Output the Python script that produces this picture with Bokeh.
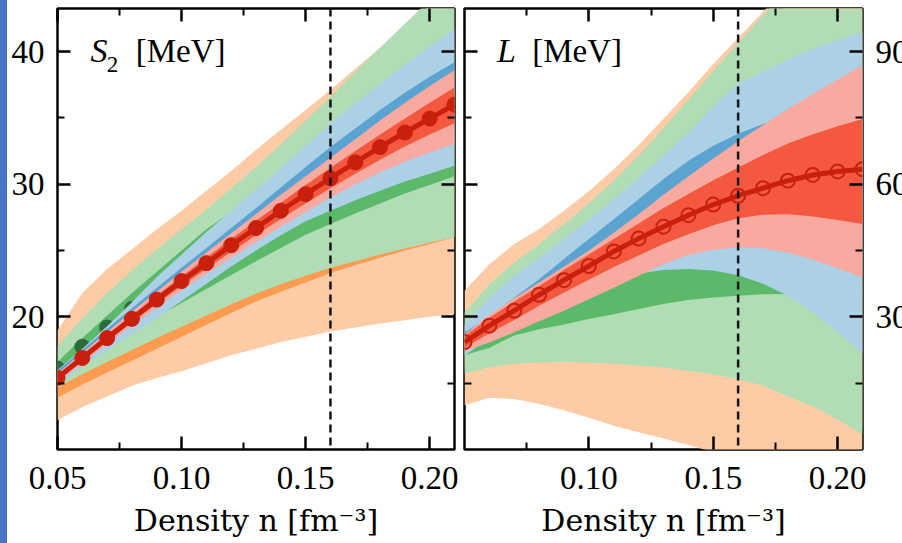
from bokeh.plotting import figure
from bokeh.models import Range1d, FixedTicker, LinearAxis, Span, Label, Div, NumeralTickFormatter
from bokeh.layouts import row
from bokeh.embed import file_html
from bokeh.resources import INLINE

# ---------------------------------------------------------------------------
# Densities [fm^-3]
# ---------------------------------------------------------------------------
n_grid = [0.05, 0.06, 0.07, 0.08, 0.09, 0.10, 0.11, 0.12, 0.13, 0.14,
          0.15, 0.16, 0.17, 0.18, 0.19, 0.20, 0.21]
n_sat = 0.16

x_ticks = [0.05, 0.10, 0.15, 0.20]
x_ticks_right = [0.10, 0.15, 0.20]
x_minor = [0.075, 0.125, 0.175]
s2_ticks = [20, 30, 40]
s2_minor = [15, 25, 35]
L_ticks = [30, 60, 90]
L_minor = [15, 45, 75]

# --- symmetry energy S2 [MeV]: 95% and 68% bands per chiral order ---
s2_lo_95_lo = [12.2, 13.2, 14.0, 14.8, 15.4, 15.9, 16.5, 17.1, 17.6, 18.1,
               18.5, 18.9, 19.2, 19.5, 19.75, 20.0, 20.2]
s2_lo_95_hi = [19.0, 21.8, 23.6, 25.1, 26.6, 28.0, 29.5, 31.0, 32.6, 34.1,
               35.6, 37.1, 38.7, 40.3, 41.9, 43.5, 45.1]
s2_lo_68_lo = [13.9, 14.9, 15.8, 16.7, 17.6, 18.5, 19.4, 20.3, 21.15, 21.9,
               22.6, 23.3, 23.9, 24.45, 25.0, 25.5, 26.0]
s2_lo_68_hi = [16.0, 17.6, 19.0, 20.3, 21.5, 22.8, 24.0, 25.2, 26.3, 27.4,
               28.5, 29.6, 30.6, 31.6, 32.6, 33.6, 34.5]
s2_nlo_95_lo = [14.65, 15.7, 16.6, 17.5, 18.4, 19.25, 20.1, 20.95, 21.75, 22.45,
                23.1, 23.7, 24.2, 24.7, 25.15, 25.6, 26.0]
s2_nlo_95_hi = [17.8, 19.9, 21.8, 23.5, 25.1, 26.6, 28.1, 29.7, 31.3, 33.0,
                34.8, 36.6, 38.5, 40.3, 42.1, 43.9, 45.6]
s2_nlo_68_lo = [15.3, 16.5, 17.7, 18.9, 20.0, 21.05, 22.1, 23.15, 24.2, 25.2,
                26.2, 27.0, 27.8, 28.55, 29.3, 29.95, 30.6]
s2_nlo_68_hi = [16.6, 18.4, 20.1, 21.8, 23.4, 25.0, 26.6, 27.9, 29.0, 29.8,
                30.6, 31.3, 32.0, 32.7, 33.4, 34.1, 34.8]
s2_n2lo_95_lo = [14.9, 16.25, 17.5, 18.7, 19.9, 21.2, 22.5, 23.8, 25.0, 26.15,
                 27.2, 28.0, 28.8, 29.5, 30.2, 30.8, 31.4]
s2_n2lo_95_hi = [16.0, 17.6, 19.3, 21.1, 23.0, 24.7, 26.4, 28.0, 29.6, 31.2,
                 32.9, 34.6, 36.1, 37.6, 39.0, 40.4, 41.7]
s2_n2lo_68_lo = [15.35, 16.8, 18.25, 19.65, 21.0, 22.3, 23.55, 24.75, 25.95, 27.1,
                 28.2, 29.3, 30.3, 31.2, 32.0, 32.7, 33.35]
s2_n2lo_68_hi = [15.95, 17.5, 19.1, 20.65, 22.2, 23.7, 25.2, 26.7, 28.2, 29.75,
                 31.3, 32.8, 34.2, 35.6, 36.9, 38.1, 39.2]
s2_n3lo_95_lo = [15.05, 16.5, 17.95, 19.35, 20.7, 22.0, 23.25, 24.45, 25.65, 26.8,
                 27.9, 29.0, 30.0, 30.9, 31.7, 32.4, 33.05]
s2_n3lo_95_hi = [15.75, 17.3, 18.85, 20.4, 21.9, 23.4, 24.85, 26.3, 27.75, 29.2,
                 30.6, 32.0, 33.4, 34.8, 36.15, 37.4, 38.6]
s2_n3lo_68_lo = [15.2, 16.68, 18.15, 19.58, 20.98, 22.33, 23.63, 24.9, 26.15, 27.38,
                 28.55, 29.7, 30.8, 31.85, 32.85, 33.75, 34.6]
s2_n3lo_68_hi = [15.6, 17.12, 18.65, 20.15, 21.62, 23.05, 24.47, 25.87, 27.25, 28.6,
                 29.95, 31.25, 32.5, 33.75, 34.95, 36.15, 37.3]
s2_nlo_pts = [16.1, 17.75, 19.2, 20.6, 22.0, 23.3, 24.6, 25.8, 27.0, 28.1,
              29.2, 30.2, 31.2, 32.1, 33.0, 33.9, 34.7]
s2_n3lo_pts = [15.4, 16.9, 18.4, 19.85, 21.3, 22.7, 24.05, 25.4, 26.7, 28.0,
               29.25, 30.45, 31.65, 32.8, 33.9, 34.95, 36.0]

# --- slope parameter L [MeV] ---
L_lo_95_lo = [10.0, 11.7, 11.4, 10.3, 8.9, 7.2, 5.4, 3.9, 2.5, 1.0,
              -0.6, -2.2, -3.8, -5.4, -7.0, -8.6, -10.2]
L_lo_95_hi = [35.9, 41.9, 46.5, 49.9, 54.0, 58.4, 63.4, 68.9, 74.8, 80.8,
              87.2, 93.1, 99.0, 105.0, 111.0, 117.0, 123.0]
L_lo_68_lo = [18.7, 20.1, 20.9, 21.2, 21.3, 21.2, 20.9, 20.5, 20.0, 19.3,
              18.5, 17.4, 16.0, 13.5, 11.3, 8.3, 4.9]
L_lo_68_hi = [28.0, 34.4, 39.3, 43.5, 48.0, 52.7, 57.8, 63.5, 69.7, 76.1,
              82.6, 88.9, 95.2, 101.0, 107.0, 113.0, 119.0]
L_nlo_95_lo = [17.2, 18.6, 19.4, 19.7, 19.8, 19.7, 19.4, 19.0, 18.5, 17.8,
               17.0, 15.9, 14.5, 12.0, 9.8, 6.8, 3.4]
L_nlo_95_hi = [31.0, 37.4, 42.3, 46.5, 51.0, 55.7, 60.8, 66.5, 72.7, 79.1,
               85.6, 91.9, 98.2, 104.0, 110.0, 116.0, 122.0]
L_nlo_68_lo = [21.3, 23.0, 25.8, 27.2, 28.3, 29.5, 30.6, 31.8, 32.9, 33.8,
               34.4, 34.8, 35.1, 35.2, 35.3, 35.3, 35.3]
L_nlo_68_hi = [24.0, 28.0, 31.5, 34.5, 37.0, 39.0, 41.0, 42.5, 43.5, 44.0,
               44.0, 43.5, 42.5, 41.0, 39.5, 38.0, 37.0]
L_n2lo_95_lo = [21.2, 25.3, 29.1, 32.0, 34.4, 36.6, 38.5, 39.8, 40.6, 40.8,
                40.5, 39.4, 37.5, 34.8, 31.0, 26.5, 21.6]
L_n2lo_95_hi = [28.3, 34.4, 39.3, 43.4, 47.6, 52.1, 56.6, 61.5, 66.5, 71.7,
                77.6, 82.8, 85.5, 88.2, 90.6, 92.6, 94.4]
L_n2lo_68_lo = [23.3, 25.2, 27.5, 30.0, 32.4, 35.0, 37.6, 40.3, 42.9, 45.0,
                46.2, 46.7, 46.5, 45.5, 44.0, 42.0, 39.9]
L_n2lo_68_hi = [26.5, 29.9, 34.4, 38.5, 43.1, 47.6, 52.1, 56.6, 61.2, 65.3,
                68.7, 71.4, 73.6, 75.6, 77.5, 79.3, 81.0]
L_n3lo_95_lo = [22.3, 24.2, 26.5, 29.0, 31.4, 34.0, 36.6, 39.3, 41.9, 44.0,
                45.2, 45.7, 45.5, 44.5, 43.0, 41.0, 38.9]
L_n3lo_95_hi = [26.0, 30.4, 34.2, 37.8, 41.4, 45.0, 49.0, 53.2, 57.6, 61.8,
                65.8, 69.7, 73.4, 77.0, 80.4, 83.7, 86.9]
L_n3lo_68_lo = [23.0, 26.3, 29.3, 32.5, 35.5, 38.4, 41.3, 43.9, 46.5, 48.7,
                50.7, 52.3, 53.1, 53.2, 52.7, 51.9, 51.0]
L_n3lo_68_hi = [25.6, 29.8, 33.5, 37.0, 40.6, 44.1, 47.6, 51.1, 54.6, 57.8,
                60.9, 63.8, 66.6, 69.2, 71.3, 73.1, 74.75]
L_n3lo_pts = [24.3, 28.0, 31.4, 35.0, 38.3, 41.5, 44.8, 47.7, 50.4, 53.0,
              55.4, 57.4, 59.1, 60.8, 62.1, 62.9, 63.4]

# ---------------------------------------------------------------------------
# Styling
# ---------------------------------------------------------------------------
FONT = "Liberation Serif"
LABEL_FONT = "DejaVu Serif"
C = {
    "lo": ("#fdcba6", "#fd9c50"),
    "nlo": ("#b1ddb5", "#5db96a"),
    "n2lo": ("#acd0e6", "#5ba3d0"),
    "n3lo": ("#f9aaa0", "#f4593f"),
}
RED = "#c8200c"
NLO_MARK = "#2e6b3a"


def style_axis(ax, ticks, minor, labels, standoff=12):
    ax.ticker = FixedTicker(ticks=ticks, minor_ticks=minor)
    ax.major_tick_in = 13
    ax.major_tick_out = 0
    ax.minor_tick_in = 7
    ax.minor_tick_out = 0
    ax.major_tick_line_width = 2.5
    ax.minor_tick_line_width = 2
    ax.major_tick_line_color = "black"
    ax.minor_tick_line_color = "black"
    ax.axis_line_color = None
    if labels:
        ax.major_label_text_font = FONT
        ax.major_label_text_font_size = "33px"
        ax.major_label_text_color = "black"
        ax.major_label_standoff = standoff
    else:
        # mirror ticks only
        ax.major_label_text_font_size = "1px"
        ax.major_label_text_color = None
        ax.major_label_standoff = 0


def add_text(p, x, y, text, size="33px", style="normal"):
    p.add_layout(Label(x=x, y=y, text=text, text_font=FONT,
                       text_font_style=style, text_font_size=size,
                       text_color="black"))


def make_panel(y_range, y_ticks, y_minor, y_side, xt, bands, border):
    p = figure(
        frame_width=border["fw"], frame_height=441,
        x_range=Range1d(0.05, 0.21), y_range=y_range,
        y_axis_location=y_side,
        min_border_left=border["l"], min_border_right=border["r"],
        min_border_top=8, min_border_bottom=94,
        output_backend="svg", toolbar_location=None,
        background_fill_color="white", border_fill_color="white",
    )
    p.xgrid.visible = False
    p.ygrid.visible = False
    p.outline_line_color = "black"
    p.outline_line_width = 2.5
    p.outline_line_alpha = 1.0

    xa = p.xaxis[0]
    style_axis(xa, xt, x_minor, True, standoff=17)
    xa.formatter = NumeralTickFormatter(format="0.00")
    xa.axis_label = "Density n [fm\u207b\u00b3]"
    xa.axis_label_text_font = LABEL_FONT
    xa.axis_label_text_font_size = "30px"
    xa.axis_label_text_font_style = "normal"
    xa.axis_label_text_color = "black"
    xa.axis_label_standoff = 11

    style_axis(p.yaxis[0], y_ticks, y_minor, True, standoff=13)

    other = "right" if y_side == "left" else "left"
    ya2 = LinearAxis()
    style_axis(ya2, y_ticks, y_minor, False)
    p.add_layout(ya2, other)
    xa2 = LinearAxis()
    style_axis(xa2, xt, x_minor, False)
    p.add_layout(xa2, "above")

    for key, (lo95, hi95, lo68, hi68) in bands:
        light, dark = C[key]
        p.varea(x=n_grid, y1=lo95, y2=hi95, fill_color=light, fill_alpha=1.0)
        p.varea(x=n_grid, y1=lo68, y2=hi68, fill_color=dark, fill_alpha=1.0)
        if key == "nlo" and y_side == "left":
            p.scatter(n_grid, s2_nlo_pts, size=15, fill_color=NLO_MARK,
                      line_color=NLO_MARK)
    p.add_layout(Span(location=n_sat, dimension="height", line_color="#151515",
                      line_width=2.5, line_dash="8 5"))
    return p


# ---------------------------------------------------------------------------
# Left panel: S2
# ---------------------------------------------------------------------------
p1 = make_panel(
    Range1d(10.0, 43.25), s2_ticks, s2_minor, "left", x_ticks,
    [("lo", (s2_lo_95_lo, s2_lo_95_hi, s2_lo_68_lo, s2_lo_68_hi)),
     ("nlo", (s2_nlo_95_lo, s2_nlo_95_hi, s2_nlo_68_lo, s2_nlo_68_hi)),
     ("n2lo", (s2_n2lo_95_lo, s2_n2lo_95_hi, s2_n2lo_68_lo, s2_n2lo_68_hi)),
     ("n3lo", (s2_n3lo_95_lo, s2_n3lo_95_hi, s2_n3lo_68_lo, s2_n3lo_68_hi))],
    {"fw": 397, "l": 50, "r": 5},
)
p1.line(n_grid, s2_n3lo_pts, line_color=RED, line_width=5)
p1.scatter(n_grid, s2_n3lo_pts, size=15, fill_color=RED, line_color=RED)
add_text(p1, 0.0633, 38.69, "S", size="34px", style="italic")
add_text(p1, 0.0698, 38.45, "2", size="23px")
add_text(p1, 0.0815, 38.69, "[MeV]")

# ---------------------------------------------------------------------------
# Right panel: L
# ---------------------------------------------------------------------------
p2 = make_panel(
    Range1d(0.0, 99.75), L_ticks, L_minor, "right", x_ticks_right,
    [("lo", (L_lo_95_lo, L_lo_95_hi, L_lo_68_lo, L_lo_68_hi)),
     ("nlo", (L_nlo_95_lo, L_nlo_95_hi, L_nlo_68_lo, L_nlo_68_hi)),
     ("n2lo", (L_n2lo_95_lo, L_n2lo_95_hi, L_n2lo_68_lo, L_n2lo_68_hi)),
     ("n3lo", (L_n3lo_95_lo, L_n3lo_95_hi, L_n3lo_68_lo, L_n3lo_68_hi))],
    {"fw": 398, "l": 5, "r": 40},
)
p2.line(n_grid, L_n3lo_pts, line_color=RED, line_width=5)
p2.scatter(n_grid, L_n3lo_pts, size=14, fill_color=None, line_color=RED,
           line_width=2)
add_text(p2, 0.0631, 86.08, "L", size="34px", style="italic")
add_text(p2, 0.0772, 86.08, "[MeV]")

bar = Div(width=7, height=543, margin=0,
          styles={"background-color": "#4573c6"})
layout = row(bar, p1, p2, spacing=0)

open("out.html", "w").write(file_html(layout, INLINE))
